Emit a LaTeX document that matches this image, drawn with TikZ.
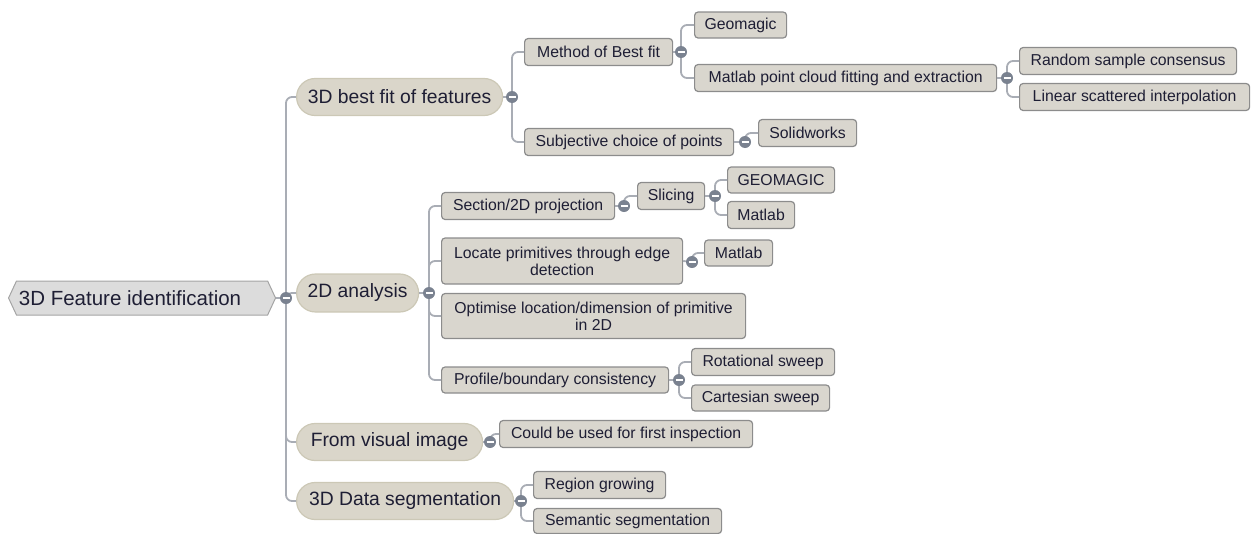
\documentclass[tikz,border=0pt]{standalone}
\usepackage{fontspec}
\setmainfont{Liberation Sans}
\usetikzlibrary{shapes.misc,shapes.symbols}
\definecolor{linegray}{HTML}{A9ADB5}
\definecolor{knobgray}{HTML}{7A8290}
\definecolor{rootfill}{HTML}{DCDCDC}
\definecolor{rootline}{HTML}{A4A4A4}
\definecolor{pillfill}{HTML}{DAD6CA}
\definecolor{pillline}{HTML}{CCC8B6}
\definecolor{boxfill}{HTML}{D9D6CE}
\definecolor{boxline}{HTML}{8C8C8C}
\definecolor{inkcol}{HTML}{1E1E34}
\tikzset{
  rootnode/.style={signal, signal to=west and east, signal pointer angle=130,
    draw=rootline, fill=rootfill, line width=1pt, inner sep=0pt,
    minimum height=34pt, text=inkcol, font=\fontsize{20.5}{23}\selectfont, anchor=west},
  pill/.style={rounded rectangle, draw=pillline, fill=pillfill, line width=1.2pt,
    inner sep=0pt, minimum height=37pt, text=inkcol,
    font=\fontsize{19.3}{22}\selectfont, anchor=west},
  leaf/.style={rectangle, rounded corners=3.5pt, draw=boxline, fill=boxfill,
    line width=1.2pt, inner sep=0pt, minimum height=27pt, text=inkcol,
    font=\fontsize{15.8}{17}\selectfont, anchor=west, align=center},
  conn/.style={draw=linegray, line width=1.8pt, rounded corners=6pt},
  knob/.style={circle, fill=knobgray, inner sep=0pt, minimum size=12pt,
    path picture={\draw[white, line width=1.4pt] ([xshift=-3.5pt]path picture bounding box.center) -- ([xshift=3.5pt]path picture bounding box.center);}},
}
\begin{document}
\begin{tikzpicture}[x=1pt,y=-1pt]
\useasboundingbox (0,0) rectangle (1257,533);

% root and first level
\node[rootnode, minimum width=267pt] (root) at (8,298) {\hspace*{-24pt}3D Feature identification};
\node[pill, minimum width=206pt] (bf) at (296,97) {3D best fit of features};
\node[pill, minimum width=122pt, minimum height=38pt] (an) at (296,293) {2D analysis};
\node[pill, minimum width=186pt] (vi) at (296,442) {From visual image};
\node[pill, minimum width=217pt] (ds) at (296,501) {3D Data segmentation};

% best fit branch
\node[leaf, minimum width=148pt] (mb) at (524,52) {Method of Best fit};
\node[leaf, minimum width=209pt] (sc) at (524,142) {Subjective choice of points};
\node[leaf, minimum width=92pt, minimum height=26pt] (ge) at (694,25) {Geomagic};
\node[leaf, minimum width=302pt] (mp) at (694,78) {Matlab point cloud fitting and extraction};
\node[leaf, minimum width=217pt] (rs) at (1019,61) {Random sample consensus};
\node[leaf, minimum width=230pt] (li) at (1019,97) {Linear scattered interpolation};
\node[leaf, minimum width=98pt] (so) at (758,133) {Solidworks};

% 2D analysis branch
\node[leaf, minimum width=173pt] (sp) at (441,206) {Section/2D projection};
\node[leaf, minimum width=67pt] (sl) at (637,196) {Slicing};
\node[leaf, minimum width=107pt, minimum height=26pt] (gm) at (727,180) {GEOMAGIC};
\node[leaf, minimum width=67pt] (mla) at (727,215) {Matlab};
\node[leaf, minimum width=241pt, minimum height=46pt] (lp) at (441,261) {Locate primitives through edge\\detection};
\node[leaf, minimum width=68pt, minimum height=26pt] (mlb) at (704,253) {Matlab};
\node[leaf, minimum width=304pt, minimum height=45pt] (op) at (441,316) {Optimise location/dimension of primitive\\in 2D};
\node[leaf, minimum width=227pt, minimum height=26pt] (pb) at (441,380) {Profile/boundary consistency};
\node[leaf, minimum width=143pt] (rt) at (691,362) {Rotational sweep};
\node[leaf, minimum width=138pt, minimum height=26pt] (ca) at (691,398) {Cartesian sweep};

% visual image and segmentation branches
\node[leaf, minimum width=253pt] (cu) at (499,434) {Could be used for first inspection};
\node[leaf, minimum width=132pt] (rg) at (533,485) {Region growing};
\node[leaf, minimum width=188pt, minimum height=25pt] (ss) at (533,521) {Semantic segmentation};

% collapse knobs
\coordinate (k0) at (286,298);
\coordinate (k1) at (512,97);
\coordinate (k2) at (429,293);
\coordinate (k3) at (490,442);
\coordinate (k4) at (521,501);
\coordinate (kmb) at (681,52);
\coordinate (kmp) at (1007,78);
\coordinate (ksc) at (745,142);
\coordinate (ksp) at (624,206);
\coordinate (ksl) at (715,196);
\coordinate (klp) at (692,262);
\coordinate (kpb) at (679,380);

% connectors
\draw[conn] (root.east) -- (k0);
\foreach \c in {bf,an,vi,ds} \draw[conn] (k0) |- (\c.west);
\draw[conn] (bf.east) -- (k1);
\foreach \c in {mb,sc} \draw[conn] (k1) |- (\c.west);
\draw[conn] (mb.east) -- (kmb);
\foreach \c in {ge,mp} \draw[conn] (kmb) |- (\c.west);
\draw[conn] (mp.east) -- (kmp);
\foreach \c in {rs,li} \draw[conn] (kmp) |- (\c.west);
\draw[conn] (sc.east) -- (ksc);
\draw[conn] (ksc) |- (so.west);
\draw[conn] (an.east) -- (k2);
\foreach \c in {sp,lp,op,pb} \draw[conn] (k2) |- (\c.west);
\draw[conn] (sp.east) -- (ksp);
\draw[conn] (ksp) |- (sl.west);
\draw[conn] (sl.east) -- (ksl);
\foreach \c in {gm,mla} \draw[conn] (ksl) |- (\c.west);
\draw[conn] (lp.east) -- (klp);
\draw[conn] (klp) |- (mlb.west);
\draw[conn] (pb.east) -- (kpb);
\foreach \c in {rt,ca} \draw[conn] (kpb) |- (\c.west);
\draw[conn] (vi.east) -- (k3);
\draw[conn] (k3) |- (cu.west);
\draw[conn] (ds.east) -- (k4);
\foreach \c in {rg,ss} \draw[conn] (k4) |- (\c.west);

\foreach \k in {k0,k1,k2,k3,k4,kmb,kmp,ksc,ksp,ksl,klp,kpb}
  \node[knob] (n\k) at (\k) {};
\end{tikzpicture}
\end{document}
